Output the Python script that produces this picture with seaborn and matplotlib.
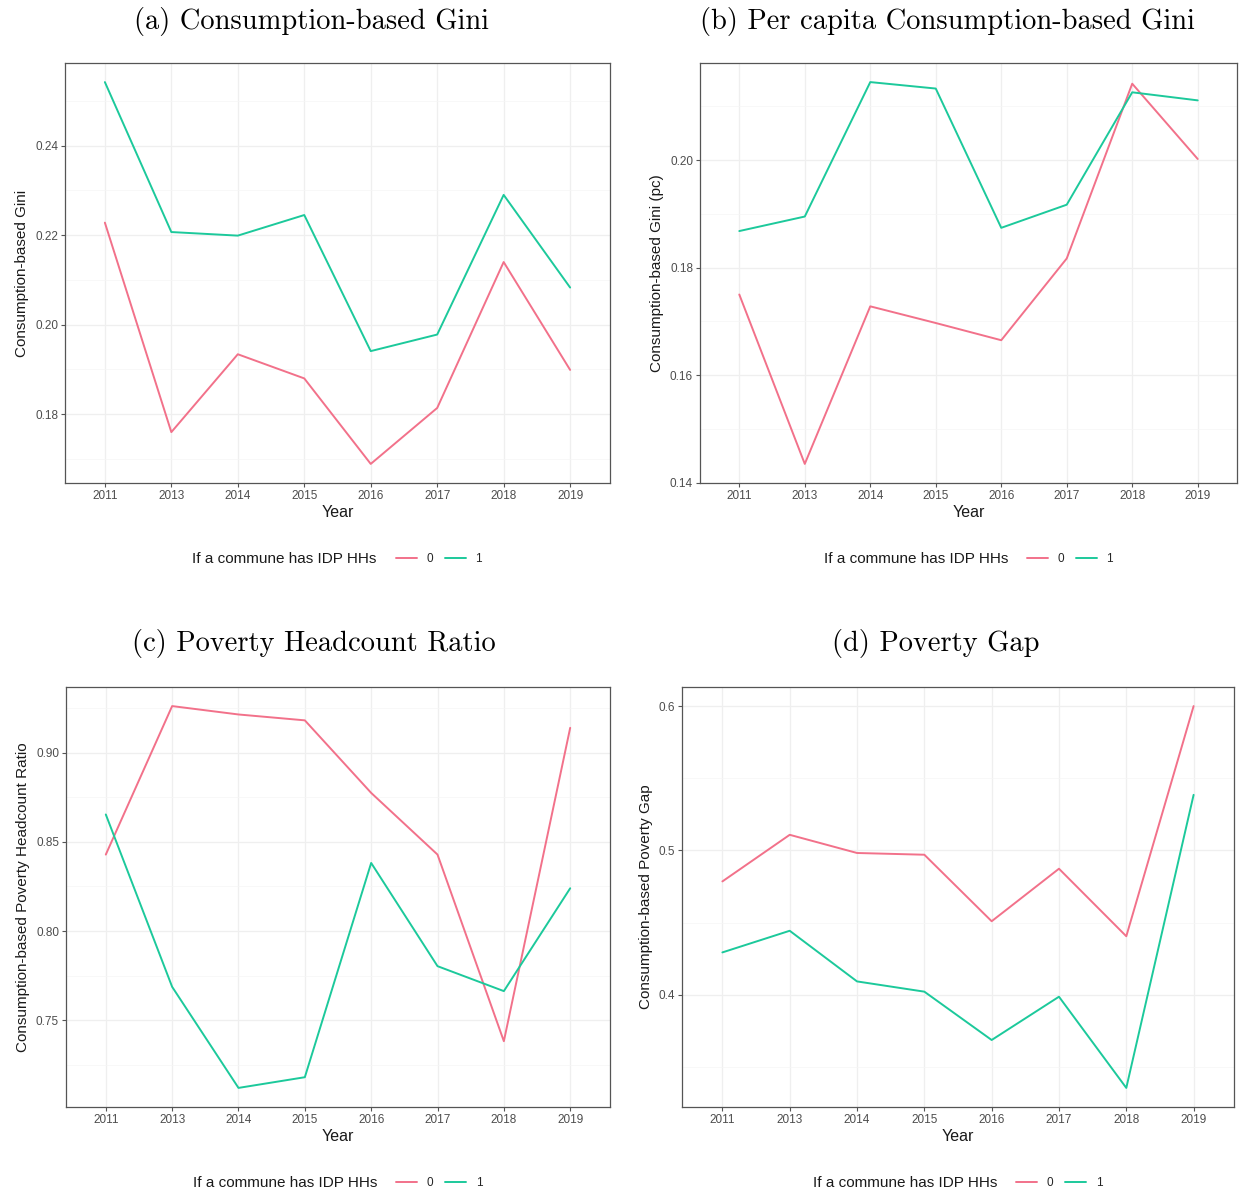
import numpy as np
import pandas as pd
import matplotlib
matplotlib.use("Agg")
import matplotlib.pyplot as plt
from matplotlib.ticker import FixedLocator, FormatStrFormatter
import seaborn as sns

sns.set_theme(style="white")
plt.rcParams["font.family"] = ["Liberation Sans", "DejaVu Sans"]

years = ["2011", "2013", "2014", "2015", "2016", "2017", "2018", "2019"]
groups = ["0", "1"]

gini_0 = [0.2228, 0.1760, 0.1934, 0.1880, 0.1689, 0.1814, 0.2140, 0.1899]
gini_1 = [0.2542, 0.2207, 0.2199, 0.2245, 0.1941, 0.1978, 0.2290, 0.2083]

gini_pc_0 = [0.1750, 0.1435, 0.1728, 0.1697, 0.1665, 0.1817, 0.2142, 0.2002]
gini_pc_1 = [0.1868, 0.1895, 0.2145, 0.2133, 0.1874, 0.1917, 0.2126, 0.2111]

headcount_0 = [0.8429, 0.9262, 0.9215, 0.9182, 0.8775, 0.8429, 0.7382, 0.9140]
headcount_1 = [0.8654, 0.7687, 0.7120, 0.7180, 0.8382, 0.7803, 0.7663, 0.8240]

gap_0 = [0.4785, 0.5108, 0.4982, 0.4970, 0.4509, 0.4873, 0.4405, 0.6000]
gap_1 = [0.4293, 0.4443, 0.4092, 0.4021, 0.3686, 0.3986, 0.3354, 0.5385]

titles = ["(a) Consumption-based Gini",
          "(b) Per capita Consumption-based Gini",
          "(c) Poverty Headcount Ratio",
          "(d) Poverty Gap"]
ylabels = ["Consumption-based Gini",
           "Consumption-based Gini (pc)",
           "Consumption-based Poverty Headcount Ratio",
           "Consumption-based Poverty Gap"]
yticks = [[0.18, 0.20, 0.22, 0.24],
          [0.14, 0.16, 0.18, 0.20],
          [0.75, 0.80, 0.85, 0.90],
          [0.4, 0.5, 0.6]]
yfmt = ["%.2f", "%.2f", "%.2f", "%.1f"]
legend_title = "If a commune has IDP HHs"

series = [(gini_0, gini_1), (gini_pc_0, gini_pc_1),
          (headcount_0, headcount_1), (gap_0, gap_1)]

palette = {"0": "#F2718A", "1": "#1CC99B"}

W, H = 1249, 1197
fig = plt.figure(figsize=(W / 100, H / 100), dpi=100)

# panel frames in pixel coordinates: left, top, right, bottom
frames = [(65, 63, 610, 483), (700, 63, 1237, 483),
          (66, 687, 610, 1107), (682, 687, 1234, 1107)]
title_pos = [(312, 21), (947, 21), (314, 644), (936, 644)]

text_grey = "#4D4D4D"

for i, (v0, v1) in enumerate(series):
    l, t, r, b = frames[i]
    ax = fig.add_axes([l / W, 1 - b / H, (r - l) / W, (b - t) / H])
    df = pd.DataFrame({
        "Year": years * 2,
        "value": list(v0) + list(v1),
        "group": [groups[0]] * len(years) + [groups[1]] * len(years),
    })
    sns.lineplot(data=df, x="Year", y="value", hue="group", hue_order=groups,
                 palette=palette, linewidth=1.4, ax=ax, sort=False)
    handles, labels = ax.get_legend_handles_labels()
    ax.get_legend().remove()

    allv = np.array(list(v0) + list(v1))
    rng = allv.max() - allv.min()
    ax.set_ylim(allv.min() - 0.05 * rng, allv.max() + 0.05 * rng)
    ax.set_xlim(-0.6, len(years) - 0.4)

    ax.yaxis.set_major_locator(FixedLocator(yticks[i]))
    ax.yaxis.set_major_formatter(FormatStrFormatter(yfmt[i]))
    step = yticks[i][1] - yticks[i][0]
    minors = [yticks[i][0] - step / 2] + [y + step / 2 for y in yticks[i]]
    ax.yaxis.set_minor_locator(FixedLocator(minors))

    ax.grid(True, which="major", color="#EFEFEF", linewidth=0.9)
    ax.grid(True, which="minor", axis="y", color="#F6F6F6", linewidth=0.5)
    ax.set_axisbelow(True)
    for s in ax.spines.values():
        s.set_color("#555555")
        s.set_linewidth(0.9)

    ax.tick_params(axis="both", which="major", direction="out", length=3,
                   width=0.8, color="#555555", labelsize=8.5,
                   labelcolor=text_grey, pad=2, left=True, bottom=True)
    ax.tick_params(axis="y", which="minor", length=0)

    ax.set_xlabel("Year", fontsize=11.5, color="#1A1A1A", labelpad=2)
    ax.set_ylabel(ylabels[i], fontsize=11, color="#1A1A1A", labelpad=4)

    tx, ty = title_pos[i]
    fig.text(tx / W, 1 - ty / H, titles[i], family="cmr10", fontsize=20.5,
             ha="center", va="center", color="black")

    # legend below the panel: title on the left, keys to the right
    cx = (l + r) / 2
    ly = b + 76
    fig.text((cx - 145) / W, 1 - ly / H, legend_title, fontsize=11,
             color="#1A1A1A", ha="left", va="center")
    fig.legend(handles, labels, loc="center left",
               bbox_to_anchor=((cx + 58) / W, 1 - ly / H), ncol=2,
               frameon=False, fontsize=8.5, handlelength=1.8,
               handletextpad=0.8, columnspacing=1.0, borderpad=0,
               borderaxespad=0)

fig.savefig("out.png", dpi=100, facecolor="white")
